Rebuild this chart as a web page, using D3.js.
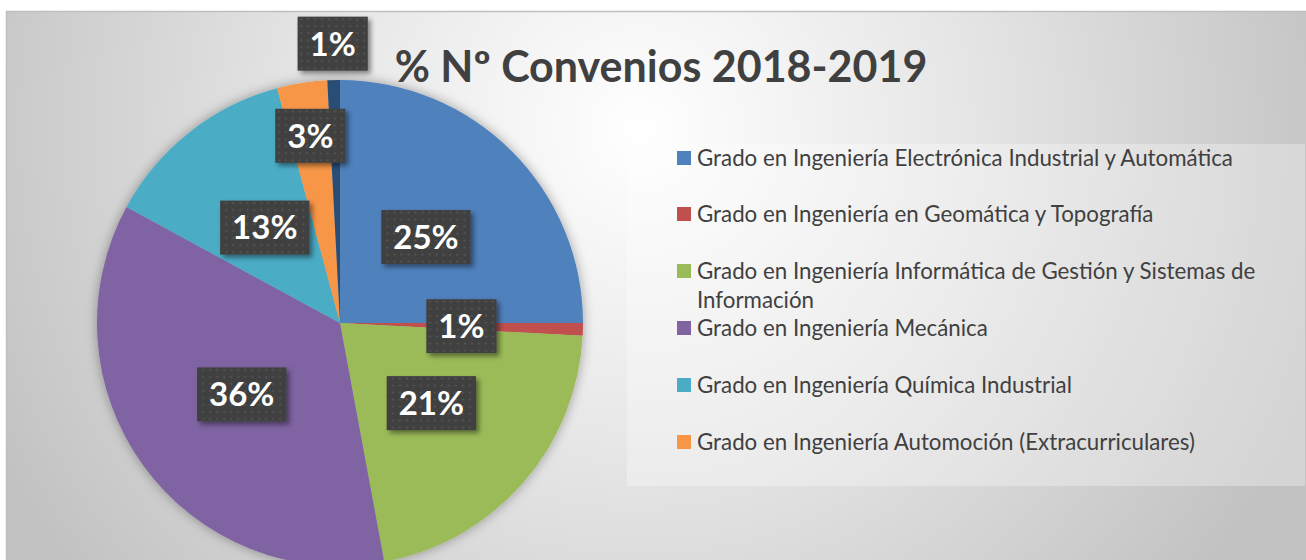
<!DOCTYPE html>
<html>
<head>
<meta charset="utf-8">
<script src="https://cdn.jsdelivr.net/npm/d3@7"></script>
<style>
  body { margin: 0; background: #fff; }
  svg { display: block; }
</style>
</head>
<body>
<div id="chart"></div>
<script>
// data (number of agreements per degree)
var categories = [
  "Grado en Ingeniería Electrónica Industrial y Automática",
  "Grado en Ingeniería en Geomática y Topografía",
  "Grado en Ingeniería Informática de Gestión y Sistemas de Información",
  "Grado en Ingeniería Mecánica",
  "Grado en Ingeniería Química Industrial",
  "Grado en Ingeniería Automoción (Extracurriculares)",
  "Otros"
];
var values = [60, 2, 51, 86, 31, 8, 2];
var colors = ["#4f81bd", "#c0504d", "#9bbb59", "#8064a2", "#4bacc6", "#f79646", "#2c4d75"];
// legend lines (the 7th entry is clipped out of the legend box)
var legendLines = [
  ["Grado en Ingeniería Electrónica Industrial y Automática"],
  ["Grado en Ingeniería en Geomática y Topografía"],
  ["Grado en Ingeniería Informática de Gestión y Sistemas de", "Información"],
  ["Grado en Ingeniería Mecánica"],
  ["Grado en Ingeniería Química Industrial"],
  ["Grado en Ingeniería Automoción (Extracurriculares)"]
];
var title = "% Nº Convenios 2018-2019";

var svgWidth = 1306;
var svgHeight = 560;

var svg = d3.select("#chart")
  .append("svg")
  .attr("width", svgWidth)
  .attr("height", svgHeight);

var defs = svg.append("defs");

// chart background: radial grey gradient
var bg = defs.append("radialGradient")
  .attr("id", "bgGrad")
  .attr("gradientUnits", "userSpaceOnUse")
  .attr("cx", 640).attr("cy", 130).attr("r", 720);
bg.append("stop").attr("offset", "0%").attr("stop-color", "#ffffff");
bg.append("stop").attr("offset", "45%").attr("stop-color", "#e6e6e6");
bg.append("stop").attr("offset", "100%").attr("stop-color", "#c2c2c2");

// dotted fill of the data labels
var pat = defs.append("pattern")
  .attr("id", "dots")
  .attr("patternUnits", "userSpaceOnUse")
  .attr("width", 7).attr("height", 7);
pat.append("rect").attr("width", 7).attr("height", 7).attr("fill", "#404040");
pat.append("circle").attr("cx", 3.5).attr("cy", 3.5).attr("r", 1).attr("fill", "#5a5a5a");

var shadow = defs.append("filter").attr("id", "shadow")
  .attr("x", "-20%").attr("y", "-20%").attr("width", "150%").attr("height", "150%");
shadow.append("feDropShadow")
  .attr("dx", 3).attr("dy", 3).attr("stdDeviation", 2.5)
  .attr("flood-color", "#000").attr("flood-opacity", 0.45);

var pieShadow = defs.append("filter").attr("id", "pieShadow")
  .attr("x", "-20%").attr("y", "-20%").attr("width", "140%").attr("height", "140%");
pieShadow.append("feDropShadow")
  .attr("dx", 0).attr("dy", 0).attr("stdDeviation", 6)
  .attr("flood-color", "#000").attr("flood-opacity", 0.35);

// chart area
svg.append("rect")
  .attr("x", 6.5).attr("y", 11.5)
  .attr("width", svgWidth + 10).attr("height", svgHeight + 10)
  .attr("fill", "url(#bgGrad)")
  .attr("stroke", "#bfbfbf")
  .attr("stroke-width", 1.5);

// pie
var radius = 243;
var pieGroup = svg.append("g")
  .attr("transform", "translate(340, 323)");

var pie = d3.pie().sort(null).value(d => d);
var arcs = pie(values);
var total = d3.sum(values);
var arc = d3.arc().innerRadius(0).outerRadius(radius);

pieGroup.append("g")
  .attr("filter", "url(#pieShadow)")
  .selectAll("path")
  .data(arcs)
  .enter()
  .append("path")
  .attr("d", arc)
  .attr("fill", (d, i) => colors[i]);

// labels: centroid for big slices, pushed outward for the small ones near the top
var labelRadius = [0.5, 0.5, 0.5, 0.5, 0.5, 0.78, 1.15];
var fmt = d3.format(".0%");

var labels = pieGroup.selectAll("g.label")
  .data(arcs)
  .enter()
  .append("g")
  .attr("class", "label")
  .attr("transform", (d, i) => {
    var r = radius * labelRadius[i];
    var c = d3.arc().innerRadius(r).outerRadius(r).centroid(d);
    return `translate(${c[0]}, ${c[1]})`;
  });

labels.append("rect")
  .attr("fill", "url(#dots)")
  .attr("filter", "url(#shadow)");

labels.append("text")
  .text(d => fmt(d.value / total))
  .attr("text-anchor", "middle")
  .attr("dy", "0.36em")
  .attr("fill", "#fff")
  .style("font-family", "Lato, 'Open Sans', sans-serif")
  .style("font-weight", "bold")
  .style("font-size", "33px");

labels.each(function() {
  var g = d3.select(this);
  var w = g.select("text").node().getComputedTextLength() + 24;
  g.select("rect")
    .attr("x", -w / 2).attr("y", -27)
    .attr("width", w).attr("height", 54);
});

// title
svg.append("text")
  .attr("x", 661)
  .attr("y", 82)
  .attr("text-anchor", "middle")
  .attr("fill", "#404040")
  .style("font-family", "Lato, 'Open Sans', sans-serif")
  .style("font-weight", "bold")
  .style("font-size", "43px")
  .text(title);

// legend
var legend = svg.append("g");
legend.append("rect")
  .attr("x", 627).attr("y", 144)
  .attr("width", 678).attr("height", 342)
  .attr("fill", "#ffffff")
  .attr("fill-opacity", 0.3);

var rowY = [158, 214, 271, 328, 385, 442];
var items = legend.selectAll("g.item")
  .data(legendLines)
  .enter()
  .append("g")
  .attr("class", "item")
  .attr("transform", (d, i) => `translate(677, ${rowY[i]})`);

items.append("rect")
  .attr("x", 0).attr("y", -7)
  .attr("width", 14).attr("height", 14)
  .attr("fill", (d, i) => colors[i]);

items.each(function(lines) {
  var t = d3.select(this).append("text")
    .attr("x", 20)
    .attr("fill", "#404040")
    .style("font-family", "Lato, 'Open Sans', sans-serif")
    .style("font-size", "22.3px");
  lines.forEach((line, j) => {
    t.append("tspan")
      .attr("x", 20)
      .attr("y", j * 29)
      .attr("dy", "0.35em")
      .text(line);
  });
});
</script>
</body>
</html>
